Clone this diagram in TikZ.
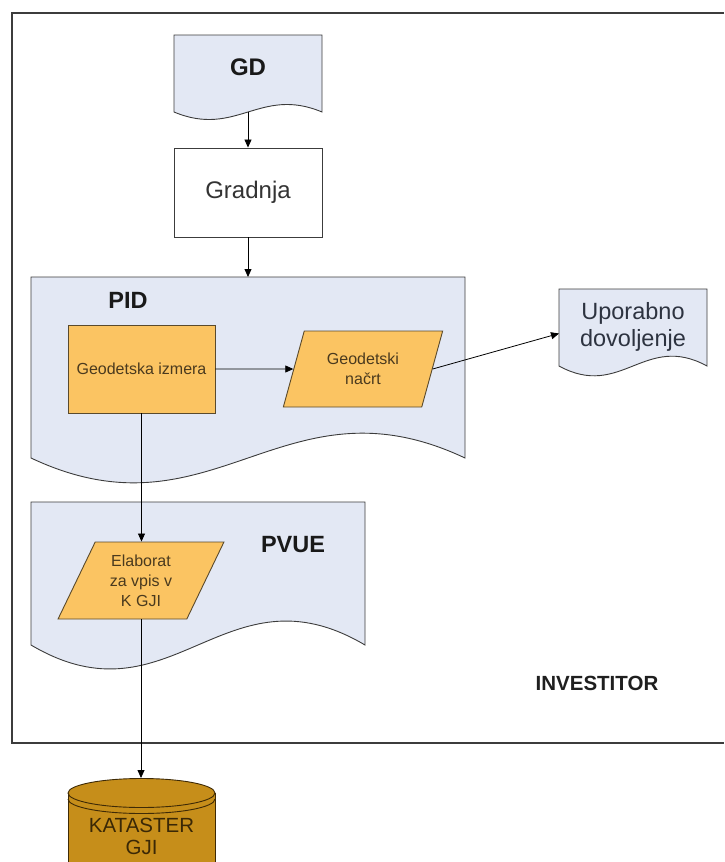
\documentclass[tikz,border=0pt]{standalone}
\usepackage{fontspec}
\setmainfont{Liberation Sans}
\usetikzlibrary{arrows.meta,calc,shapes.geometric}

\definecolor{docfill}{HTML}{E3E8F4}
\definecolor{framegray}{HTML}{3C3C3C}
\definecolor{ochre}{HTML}{FBC462}
\definecolor{ochreline}{HTML}{5A4A2C}
\definecolor{ochretext}{HTML}{4A3A1E}
\definecolor{barrel}{HTML}{C68E1A}
\definecolor{barrelline}{HTML}{3E2A06}
\definecolor{barreltext}{HTML}{3A2806}
\definecolor{doctext}{HTML}{2D3340}

\tikzset{
  docbox/.style={draw=none, inner sep=0pt, outer sep=0pt},
  docline/.style={draw=framegray, fill=docfill, line width=0.9pt},
  plainbox/.style={draw=framegray, fill=white, line width=0.9pt, inner sep=0pt},
  procbox/.style={draw=ochreline, fill=ochre, line width=0.9pt, inner sep=0pt,
    text=ochretext, font=\fontsize{16}{20}\selectfont, align=center},
  databox/.style={trapezium, trapezium stretches=true, draw=ochreline, fill=ochre,
    line width=0.9pt, inner sep=0pt, text=ochretext,
    font=\fontsize{16}{20}\selectfont, align=center},
  flow/.style={draw=black, line width=0.8pt, -{Triangle[length=8pt,width=7pt]}},
  headline/.style={font=\bfseries\fontsize{23.5}{26}\selectfont, text=black!90},
}

% document symbol with a wavy lower edge, built on a blank node
\newcommand\wavedoc[2]{%
  \path[docline] (#1.north west) -- (#1.north east) -- (#1.south east)
    .. controls ($(#1.south east)!0.42!(#1.south west)+(0,-#2)$)
       and ($(#1.south east)!0.58!(#1.south west)+(0,#2)$) .. (#1.south west)
    -- cycle;}

\begin{document}
\begin{tikzpicture}[x=1pt,y=-1pt]
\useasboundingbox (0,0) rectangle (724,862);

% outer frame, open to the right
\draw[framegray, line width=1.8pt] (724,13) -- (12,13) -- (12,743) -- (724,743);

% document symbols
\node[docbox, minimum width=434pt, minimum height=181pt] (pid) at (248,367.5) {};
\wavedoc{pid}{86}
\node[docbox, minimum width=334pt, minimum height=143pt] (pvue) at (198,573.5) {};
\wavedoc{pvue}{83}
\node[docbox, minimum width=148pt, minimum height=77pt] (gd) at (248,73.5) {};
\wavedoc{gd}{26}
\node[docbox, minimum width=148pt, minimum height=77pt] (upor) at (633,327.5) {};
\wavedoc{upor}{34}

\node[headline, font=\bfseries\fontsize{24}{26}\selectfont] (gdtext) at (248,67) {GD};
\node[headline] (pidtext) at (128,300) {PID};
\node[headline] (pvuetext) at (293,545) {PVUE};
\node[font=\fontsize{23.5}{27}\selectfont, text=doctext, align=center] (uportext)
  at (633,327) {Uporabno\\dovoljenje};
\node[font=\bfseries\fontsize{20.5}{24}\selectfont, text=black!88] (investitor)
  at (597,683) {INVESTITOR};

% process steps
\node[plainbox, minimum width=148pt, minimum height=89pt,
  font=\fontsize{24}{28}\selectfont, text=black!80] (gradnja) at (248,192.5) {Gradnja};
\node[procbox, minimum width=147pt, minimum height=88pt] (izmera) at (141.5,369)
  {Geodetska izmera};
\node[databox, trapezium left angle=68, trapezium right angle=112,
  minimum width=160pt, minimum height=76pt] (nacrt) at (363,369) {Geodetski\\načrt};
\node[databox, trapezium left angle=64, trapezium right angle=116,
  minimum width=166pt, minimum height=77pt] (elaborat) at (141,580.5)
  {Elaborat\\za vpis v\\K GJI};

% cadastre database drum
\node[docbox, minimum width=147pt, minimum height=122pt] (kat) at (141.5,839) {};
\fill[barrel] (68,793) rectangle (215,900);
\draw[barrelline, line width=0.9pt] (68,793) -- (68,900) (215,793) -- (215,900);
\draw[barrelline, line width=0.9pt] (68,799) arc[start angle=180, end angle=360,
  x radius=73.5, y radius=-14.5];
\draw[barrelline, fill=barrel, line width=0.9pt] (141.5,793) ellipse [x radius=73.5, y radius=14.5];
\node[font=\fontsize{20.5}{22}\selectfont, text=barreltext, align=center] (kattext)
  at (141.5,836) {KATASTER\\GJI};

% connectors
\draw[flow] (gd.south) -- (gradnja.north);
\draw[flow] (gradnja.south) -- (gradnja.south |- pid.north);
\draw[flow] (izmera) -- (nacrt);
\draw[flow] (nacrt.east) -- ($(upor.west)+(0,6)$);
\draw[flow] (izmera.south) -- (izmera.south |- elaborat.north);
\draw[flow] (elaborat.south) -- (elaborat.south |- kat.north);
\end{tikzpicture}
\end{document}
